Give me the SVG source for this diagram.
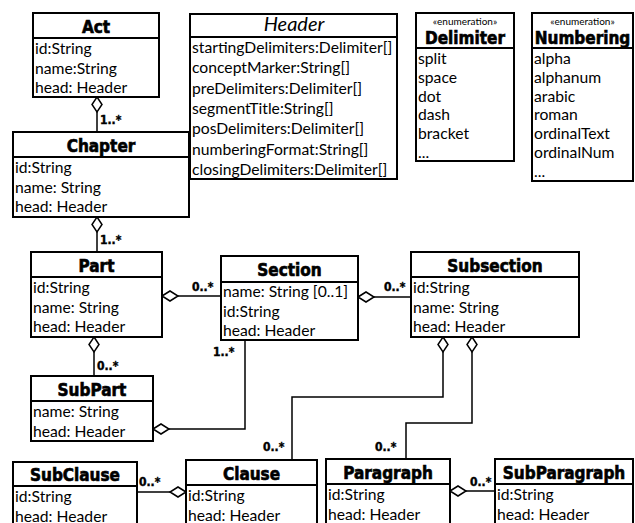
<svg xmlns="http://www.w3.org/2000/svg" width="635" height="523" viewBox="0 0 635 523">
<style>
.box{fill:#fff;stroke:#000;stroke-width:2}
.sep{stroke:#000;stroke-width:2}
.t{font-family:"DejaVu Sans Condensed","DejaVu Sans",sans-serif;font-weight:bold;font-stretch:condensed;font-size:17px;text-anchor:middle;fill:#000;stroke:#000;stroke-width:0.6}
.hi{font-family:Lato,"Open Sans",sans-serif;font-style:italic;font-size:20px;text-anchor:middle;fill:#000}
.a{font-family:Lato,"Open Sans",sans-serif;font-size:15.7px;fill:#000}
.m{font-family:"DejaVu Sans Condensed","DejaVu Sans",sans-serif;font-weight:bold;font-stretch:condensed;font-size:12px;fill:#000;stroke:#000;stroke-width:0.4}
.st{font-family:Lato,sans-serif;font-size:10px;text-anchor:middle;fill:#000}
.c{fill:none;stroke:#000;stroke-width:1.5}
.d{fill:#fff;stroke:#000;stroke-width:1.5}
</style>
<rect width="635" height="523" fill="#fff"/>

<g id="connectors">
  <!-- Act - Chapter -->
  <line class="c" x1="97" y1="112" x2="97" y2="132"/>
  <polygon class="d" points="97,97 102,104.5 97,112 92,104.5"/>
  <text class="m" x="100" y="124">1..*</text>
  <!-- Chapter - Part -->
  <line class="c" x1="97" y1="232" x2="97" y2="252"/>
  <polygon class="d" points="97,217 102,224.5 97,232 92,224.5"/>
  <text class="m" x="100" y="244">1..*</text>
  <!-- Part - Section -->
  <line class="c" x1="178" y1="296" x2="221" y2="296"/>
  <polygon class="d" points="162,296 170,291 178,296 170,301"/>
  <text class="m" x="192" y="291">0..*</text>
  <!-- Part - SubPart -->
  <line class="c" x1="94" y1="352" x2="94" y2="376"/>
  <polygon class="d" points="94,337 99,344.5 94,352 89,344.5"/>
  <text class="m" x="97" y="370">0..*</text>
  <!-- SubPart - Section -->
  <polyline class="c" points="169,429 245,429 245,340"/>
  <polygon class="d" points="153,429 161,424 169,429 161,434"/>
  <text class="m" x="213" y="356">1..*</text>
  <!-- Section - Subsection -->
  <line class="c" x1="374" y1="297" x2="411" y2="297"/>
  <polygon class="d" points="358,297 366,292 374,297 366,302"/>
  <text class="m" x="384" y="291">0..*</text>
  <!-- Subsection - Clause -->
  <polyline class="c" points="443,352 443,397 292,397 292,460"/>
  <polygon class="d" points="443,337 448,344.5 443,352 438,344.5"/>
  <text class="m" x="263" y="451">0..*</text>
  <!-- Subsection - Paragraph -->
  <polyline class="c" points="472,352 472,423 406,423 406,459"/>
  <polygon class="d" points="472,337 477,344.5 472,352 467,344.5"/>
  <text class="m" x="375" y="451">0..*</text>
  <!-- Clause - SubClause -->
  <line class="c" x1="170" y1="492" x2="137" y2="492"/>
  <polygon class="d" points="186,492 178,487 170,492 178,497"/>
  <text class="m" x="139" y="486">0..*</text>
  <!-- Paragraph - SubParagraph -->
  <line class="c" x1="466" y1="491" x2="495" y2="491"/>
  <polygon class="d" points="450,491 458,486 466,491 458,496"/>
  <text class="m" x="470" y="486">0..*</text>
</g>

<g id="Act">
  <rect class="box" x="33" y="13" width="126" height="84"/>
  <line class="sep" x1="33" y1="38" x2="159" y2="38"/>
  <text class="t" x="96" y="33">Act</text>
  <text class="a" x="35" y="54">id:String</text>
  <text class="a" x="35" y="73.5">name:String</text>
  <text class="a" x="35" y="93">head: Header</text>
</g>

<g id="Header">
  <rect class="box" x="190" y="14" width="207" height="165"/>
  <line class="sep" x1="190" y1="37" x2="397" y2="37"/>
  <text class="hi" x="294" y="31">Header</text>
  <text class="a" x="192" y="53">startingDelimiters:Delimiter[]</text>
  <text class="a" x="192" y="73.3">conceptMarker:String[]</text>
  <text class="a" x="192" y="93.6">preDelimiters:Delimiter[]</text>
  <text class="a" x="192" y="113.9">segmentTitle:String[]</text>
  <text class="a" x="192" y="134.2">posDelimiters:Delimiter[]</text>
  <text class="a" x="192" y="154.5">numberingFormat:String[]</text>
  <text class="a" x="192" y="174.8">closingDelimiters:Delimiter[]</text>
</g>

<g id="Delimiter">
  <rect class="box" x="416" y="13" width="98" height="148"/>
  <line class="sep" x1="416" y1="48" x2="514" y2="48"/>
  <text class="st" x="465" y="25">«enumeration»</text>
  <text class="t" x="465" y="44">Delimiter</text>
  <text class="a" x="418" y="64">split</text>
  <text class="a" x="418" y="82.8">space</text>
  <text class="a" x="418" y="101.6">dot</text>
  <text class="a" x="418" y="120.4">dash</text>
  <text class="a" x="418" y="139.2">bracket</text>
  <text class="a" x="418" y="158">...</text>
</g>

<g id="Numbering">
  <rect class="box" x="532" y="13" width="101" height="168"/>
  <line class="sep" x1="532" y1="48" x2="633" y2="48"/>
  <text class="st" x="582.5" y="25">«enumeration»</text>
  <text class="t" x="582.5" y="44">Numbering</text>
  <text class="a" x="534" y="64">alpha</text>
  <text class="a" x="534" y="82.8">alphanum</text>
  <text class="a" x="534" y="101.6">arabic</text>
  <text class="a" x="534" y="120.4">roman</text>
  <text class="a" x="534" y="139.2">ordinalText</text>
  <text class="a" x="534" y="158">ordinalNum</text>
  <text class="a" x="534" y="176.8">...</text>
</g>

<g id="Chapter">
  <rect class="box" x="13" y="132" width="176" height="85"/>
  <line class="sep" x1="13" y1="157" x2="189" y2="157"/>
  <text class="t" x="101" y="152">Chapter</text>
  <text class="a" x="15" y="173">id:String</text>
  <text class="a" x="15" y="192.5">name: String</text>
  <text class="a" x="15" y="212">head: Header</text>
</g>

<g id="Part">
  <rect class="box" x="31" y="252" width="131" height="85"/>
  <line class="sep" x1="31" y1="277" x2="162" y2="277"/>
  <text class="t" x="96.5" y="272">Part</text>
  <text class="a" x="33" y="293">id:String</text>
  <text class="a" x="33" y="312.5">name: String</text>
  <text class="a" x="33" y="332">head: Header</text>
</g>

<g id="Section">
  <rect class="box" x="221" y="256" width="137" height="84"/>
  <line class="sep" x1="221" y1="282" x2="358" y2="282"/>
  <text class="t" x="289.5" y="276">Section</text>
  <text class="a" x="223" y="297">name: String [0..1]</text>
  <text class="a" x="223" y="316.5">id:String</text>
  <text class="a" x="223" y="336">head: Header</text>
</g>

<g id="Subsection">
  <rect class="box" x="411" y="252" width="168" height="85"/>
  <line class="sep" x1="411" y1="277" x2="579" y2="277"/>
  <text class="t" x="495" y="272">Subsection</text>
  <text class="a" x="413" y="293">id:String</text>
  <text class="a" x="413" y="312.5">name: String</text>
  <text class="a" x="413" y="332">head: Header</text>
</g>

<g id="SubPart">
  <rect class="box" x="31" y="376" width="122" height="65"/>
  <line class="sep" x1="31" y1="401" x2="153" y2="401"/>
  <text class="t" x="92" y="396">SubPart</text>
  <text class="a" x="33" y="417">name: String</text>
  <text class="a" x="33" y="436.5">head: Header</text>
</g>

<g id="SubClause">
  <rect class="box" x="13" y="462" width="124" height="80"/>
  <line class="sep" x1="13" y1="486" x2="137" y2="486"/>
  <text class="t" x="75" y="481">SubClause</text>
  <text class="a" x="15" y="502">id:String</text>
  <text class="a" x="15" y="521.5">head: Header</text>
</g>

<g id="Clause">
  <rect class="box" x="186" y="460" width="131" height="80"/>
  <line class="sep" x1="186" y1="485" x2="317" y2="485"/>
  <text class="t" x="251.5" y="480">Clause</text>
  <text class="a" x="188" y="501">id:String</text>
  <text class="a" x="188" y="520.5">head: Header</text>
</g>

<g id="Paragraph">
  <rect class="box" x="326" y="459" width="124" height="80"/>
  <line class="sep" x1="326" y1="484" x2="450" y2="484"/>
  <text class="t" x="388" y="479">Paragraph</text>
  <text class="a" x="328" y="500">id:String</text>
  <text class="a" x="328" y="519.5">head: Header</text>
</g>

<g id="SubParagraph">
  <rect class="box" x="495" y="459" width="138" height="80"/>
  <line class="sep" x1="495" y1="484" x2="633" y2="484"/>
  <text class="t" x="564" y="479">SubParagraph</text>
  <text class="a" x="497" y="500">id:String</text>
  <text class="a" x="497" y="519.5">head: Header</text>
</g>
</svg>
